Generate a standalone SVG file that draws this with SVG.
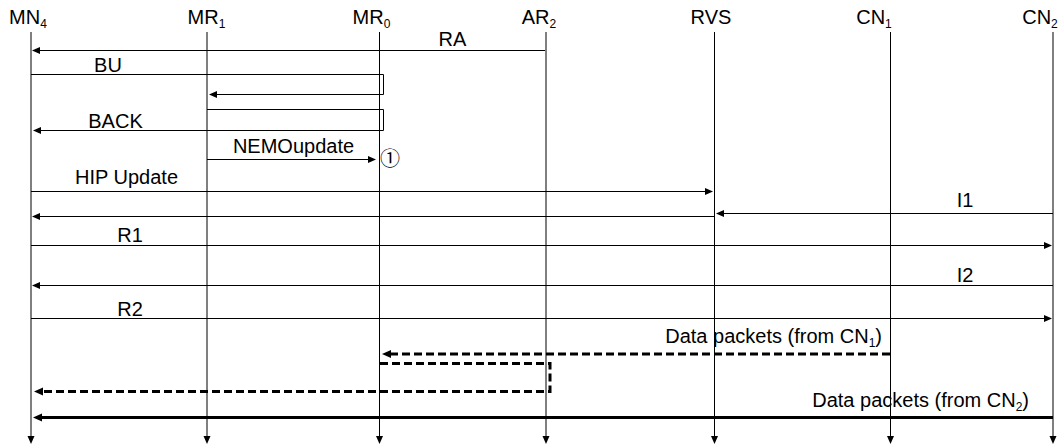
<svg xmlns="http://www.w3.org/2000/svg" width="1064" height="444" viewBox="0 0 1064 444">
  <style>
    text { font-family: "Liberation Sans", Arial, sans-serif; font-size: 20px; fill: #000; }
    .hdr { text-anchor: middle; }
    .lbl { text-anchor: middle; }
    .sub { font-size: 12px; }
    .life { stroke: #000; stroke-width: 1; fill: none; }
    .msg { stroke: #000; stroke-width: 1; fill: none; }
    .dash { stroke: #000; stroke-width: 3; fill: none; stroke-dasharray: 8 4; }
    .thick { stroke: #000; stroke-width: 3; fill: none; }
  </style>
  <defs>
    <marker id="ah" markerUnits="userSpaceOnUse" viewBox="0 -4 8 8" refX="0" refY="0" markerWidth="8" markerHeight="8" orient="auto">
      <path d="M0,-3.5 L8,0 L0,3.5 z" fill="#000"/>
    </marker>
    <marker id="ahb" markerUnits="userSpaceOnUse" viewBox="0 -5 9 10" refX="0" refY="0" markerWidth="9" markerHeight="10" orient="auto">
      <path d="M0,-4 L9,0 L0,4 z" fill="#000"/>
    </marker>
  </defs>
  <rect width="1064" height="444" fill="#fff"/>

  <g id="MN4">
    <text class="hdr" x="28" y="23.5">MN<tspan class="sub" dy="4">4</tspan></text>
    <path class="life" d="M31,32 V436" marker-end="url(#ah)"/>
  </g>
  <g id="MR1">
    <text class="hdr" x="206.5" y="23.5">MR<tspan class="sub" dy="4">1</tspan></text>
    <path class="life" d="M207,32 V436" marker-end="url(#ah)"/>
  </g>
  <g id="MR0">
    <text class="hdr" x="371.5" y="23.5">MR<tspan class="sub" dy="4">0</tspan></text>
    <path class="life" d="M379.5,32 V436" marker-end="url(#ah)"/>
  </g>
  <g id="AR2">
    <text class="hdr" x="539" y="23.5">AR<tspan class="sub" dy="4">2</tspan></text>
    <path class="life" d="M546,32 V436" marker-end="url(#ah)"/>
  </g>
  <g id="RVS">
    <text class="hdr" x="711" y="23.5">RVS</text>
    <path class="life" d="M714.5,32 V436" marker-end="url(#ah)"/>
  </g>
  <g id="CN1">
    <text class="hdr" x="874" y="23.5">CN<tspan class="sub" dy="4">1</tspan></text>
    <path class="life" d="M890.5,32 V436" marker-end="url(#ah)"/>
  </g>
  <g id="CN2">
    <text class="hdr" x="1040" y="23.5">CN<tspan class="sub" dy="4">2</tspan></text>
    <path class="life" d="M1053,32 V436" marker-end="url(#ah)"/>
  </g>

  <g id="connectors">
    <path class="msg" d="M545,50.5 H40" marker-end="url(#ah)"/>
    <path class="msg" d="M31,74.5 H383.5 V94.5 H217" marker-end="url(#ah)"/>
    <path class="msg" d="M207,109.5 H383.5 V130.5 H41" marker-end="url(#ah)"/>
    <path class="msg" d="M207,159.5 H368" marker-end="url(#ah)"/>
    <path class="msg" d="M31,191.5 H705" marker-end="url(#ah)"/>
    <path class="msg" d="M1053,213.5 H724" marker-end="url(#ah)"/>
    <path class="msg" d="M714,216.5 H40" marker-end="url(#ah)"/>
    <path class="msg" d="M31,245.5 H1044" marker-end="url(#ah)"/>
    <path class="msg" d="M1053,285.5 H40" marker-end="url(#ah)"/>
    <path class="msg" d="M31,318.5 H1044" marker-end="url(#ah)"/>
    <path class="dash" d="M890,354 H391" marker-end="url(#ahb)"/>
    <path class="dash" d="M380,363.5 H550 V391.5 H43" marker-end="url(#ahb)"/>
    <path class="thick" d="M1053,417.5 H42" marker-end="url(#ahb)"/>
  </g>

  <g id="labels">
    <text class="lbl" x="452.5" y="45.5">RA</text>
    <text class="lbl" x="108" y="71.5">BU</text>
    <text class="lbl" x="115.5" y="128">BACK</text>
    <text class="lbl" x="293.5" y="152.5">NEMOupdate</text>
    <text x="390" y="166" style="font-family: 'Noto Sans CJK SC', 'DejaVu Sans', sans-serif; font-size: 20px; text-anchor: middle;">①</text>
    <text class="lbl" x="126.5" y="184">HIP Update</text>
    <text class="lbl" x="965" y="206.5">I1</text>
    <text class="lbl" x="130" y="242">R1</text>
    <text class="lbl" x="965" y="281.5">I2</text>
    <text class="lbl" x="130" y="315.5">R2</text>
    <text x="882" y="343" text-anchor="end">Data packets (from CN<tspan class="sub" dy="4">1</tspan><tspan dy="-4">)</tspan></text>
    <text x="1029" y="407" text-anchor="end">Data packets (from CN<tspan class="sub" dy="4">2</tspan><tspan dy="-4">)</tspan></text>
  </g>
</svg>
